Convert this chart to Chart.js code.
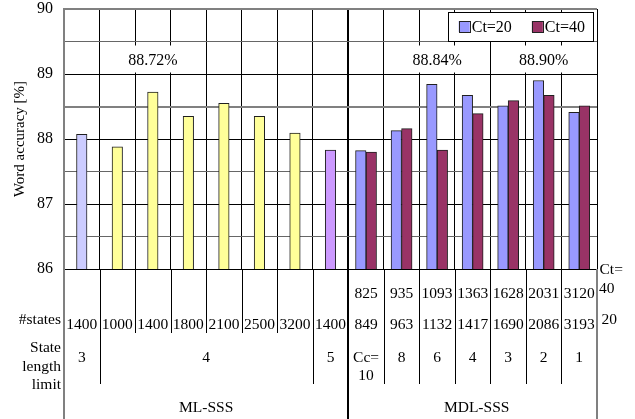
<!DOCTYPE html>
<html>
<head>
<meta charset="utf-8">
<script src="https://cdn.jsdelivr.net/npm/chart.js@4.4.1/dist/chart.umd.min.js"></script>
<style>
  html, body { margin: 0; padding: 0; background: #fff; }
  #wrap { width: 635px; height: 419px; position: relative; }
</style>
</head>
<body>
<div id="wrap"><canvas id="c" width="635" height="419"></canvas></div>
<script>
// ML-SSS systems: one bar per (state length limit, #states) setting
const mlStates = [1400, 1000, 1400, 1800, 2100, 2500, 3200, 1400];
const mlLengthLimit = [3, 4, 4, 4, 4, 4, 4, 5];
const mlAccuracy = [88.07, 87.88, 88.72, 88.35, 88.55, 88.35, 88.09, 87.83];

// MDL-SSS systems: one column per Cc value, two bars (Ct=20 / Ct=40)
const mdlCc = [10, 8, 6, 4, 3, 2, 1];
const mdlStatesCt40 = [825, 935, 1093, 1363, 1628, 2031, 3120];
const mdlStatesCt20 = [849, 963, 1132, 1417, 1690, 2086, 3193];
const mdlAccCt20 = [87.82, 88.13, 88.84, 88.67, 88.51, 88.90, 88.41];
const mdlAccCt40 = [87.80, 88.16, 87.83, 88.39, 88.59, 88.67, 88.51];

const seriesNames = ['Ct=20', 'Ct=40'];
const groupNames = ['ML-SSS', 'MDL-SSS'];
const yRange = [86, 90];

// columns whose best accuracy gets a callout
const calloutColumns = [2, 10, 13];

const SERIF = "'Liberation Serif', 'Times New Roman', serif";
const nML = mlAccuracy.length;
const nMDL = mdlCc.length;
const pad = (n) => Array(n).fill(null);

const categories = [
  ...mlStates.map((s, i) => `ML L${mlLengthLimit[i]} ${s}`),
  ...mdlCc.map(c => `MDL Cc=${c}`)
];

const limitColor = { 3: '#CCCCFF', 4: '#FFFF99', 5: '#CC99FF' };
const seriesColor = ['#9999FF', '#993366'];

const datasets = [
  {
    label: 'ML-SSS',
    data: [...mlAccuracy, ...pad(nMDL)],
    backgroundColor: [...mlLengthLimit.map(l => limitColor[l]), ...pad(nMDL)],
    inLegend: false
  },
  {
    label: seriesNames[0],
    data: [...pad(nML), ...mdlAccCt20],
    backgroundColor: seriesColor[0],
    inLegend: true
  },
  {
    label: seriesNames[1],
    data: [...pad(nML), ...mdlAccCt40],
    backgroundColor: seriesColor[1],
    inLegend: true
  }
];

const crisp = v => Math.round(v) + 0.5;

// value callouts in white boxes above the best bars
const calloutPlugin = {
  id: 'callouts',
  afterDatasetsDraw(chart) {
    const { ctx, scales: { x, y } } = chart;
    ctx.save();
    ctx.font = `16px ${SERIF}`;
    ctx.textAlign = 'center';
    ctx.textBaseline = 'alphabetic';
    calloutColumns.forEach(col => {
      const vals = chart.data.datasets.map(d => d.data[col]).filter(v => v != null);
      const best = Math.max(...vals);
      const text = best.toFixed(2) + '%';
      const cx = x.getPixelForValue(col);
      const w = ctx.measureText(text).width + 14;
      const top = y.getPixelForValue(89.5) + 4;
      const bottom = y.getPixelForValue(89) - 1.5;
      ctx.fillStyle = '#fff';
      ctx.fillRect(cx - w / 2, top, w, bottom - top);
      ctx.fillStyle = '#000';
      ctx.fillText(text, cx, bottom - 7.5);
    });
    ctx.restore();
  }
};

// boxed legend inside the plot, top right
const boxLegendPlugin = {
  id: 'boxLegend',
  afterDatasetsDraw(chart) {
    const { ctx, chartArea } = chart;
    const items = chart.data.datasets.filter(d => d.inLegend);
    ctx.save();
    ctx.font = `16px ${SERIF}`;
    const box = { right: chartArea.right - 4, top: chartArea.top + 3, h: 29 };
    const sq = 11, gap = 2, itemGap = 20, padL = 11, padR = 8;
    const widths = items.map(d => sq + gap + ctx.measureText(d.label).width);
    const total = padL + widths.reduce((a, b) => a + b, 0) + itemGap * (items.length - 1) + padR;
    const left = box.right - total;
    ctx.fillStyle = '#fff';
    ctx.fillRect(left, box.top, total, box.h);
    ctx.strokeStyle = '#000';
    ctx.lineWidth = 1;
    ctx.strokeRect(crisp(left), crisp(box.top), Math.round(total), box.h);
    let xPos = left + padL;
    const midY = box.top + box.h / 2;
    items.forEach((d, i) => {
      ctx.fillStyle = d.backgroundColor;
      ctx.fillRect(xPos, midY - sq / 2, sq, sq);
      ctx.strokeStyle = '#222';
      ctx.strokeRect(crisp(xPos), crisp(midY - sq / 2), sq, sq);
      ctx.fillStyle = '#000';
      ctx.textBaseline = 'middle';
      ctx.textAlign = 'left';
      ctx.fillText(d.label, xPos + sq + gap, midY + 1);
      xPos += widths[i] + itemGap;
    });
    ctx.restore();
  }
};

// parameter table below the category axis
const tablePlugin = {
  id: 'paramTable',
  afterDraw(chart) {
    const { ctx, chartArea, scales: { x } } = chart;
    const H = chart.height;
    const base = chartArea.bottom;
    const edge = i => x.getPixelForValue(i - 0.5);
    const center = i => x.getPixelForValue(i);
    const n = categories.length;

    ctx.save();
    // vertical rules
    for (let i = 0; i <= n; i++) {
      let end, width = 1, color = '#000';
      if (i === 0 || i === n) { end = H; width = 2; color = '#808080'; }
      else if (i === nML) { end = H; width = 2; }
      else if (i === 1 || i === nML - 1 || i > nML) { end = 384; }
      else { end = 333; }
      ctx.strokeStyle = color;
      ctx.lineWidth = width;
      const px = width === 2 ? Math.round(edge(i)) : crisp(edge(i));
      ctx.beginPath();
      ctx.moveTo(px, base);
      ctx.lineTo(px, end);
      ctx.stroke();
    }

    ctx.fillStyle = '#000';
    ctx.textBaseline = 'alphabetic';
    ctx.font = `15.5px ${SERIF}`;

    // row headers
    ctx.textAlign = 'right';
    const hdrX = chartArea.left - 3;
    ctx.fillText('#states', hdrX, 323.5);
    ctx.fillText('State', hdrX, 352);
    ctx.fillText('length', hdrX, 370.5);
    ctx.fillText('limit', hdrX, 389);

    // Ct key on the right
    ctx.textAlign = 'left';
    ctx.fillText('Ct=', chartArea.right + 2.5, 274);
    ctx.fillText('40', chartArea.right + 2, 292.7);
    ctx.fillText('20', chartArea.right + 4.5, 324);

    ctx.textAlign = 'center';
    // #states rows
    mdlStatesCt40.forEach((s, i) => ctx.fillText(String(s), center(nML + i), 298));
    mlStates.forEach((s, i) => ctx.fillText(String(s), center(i), 329));
    mdlStatesCt20.forEach((s, i) => ctx.fillText(String(s), center(nML + i), 329));

    // state length limit: merge runs of equal values
    let start = 0;
    for (let i = 1; i <= nML; i++) {
      if (i === nML || mlLengthLimit[i] !== mlLengthLimit[start]) {
        const cx = (edge(start) + edge(i)) / 2;
        ctx.fillText(String(mlLengthLimit[start]), cx, 361.5);
        start = i;
      }
    }
    // Cc values (first column carries the "Cc=" prefix on its own line)
    mdlCc.forEach((c, i) => {
      const cx = center(nML + i);
      if (i === 0) {
        ctx.fillText('Cc=', cx, 361.5);
        ctx.fillText(String(c), cx, 380);
      } else {
        ctx.fillText(String(c), cx, 361.5);
      }
    });

    // group names
    ctx.fillText(groupNames[0], (edge(0) + edge(nML)) / 2, 411.5);
    ctx.fillText(groupNames[1], (edge(nML) + edge(n)) / 2 + 4, 411.5);
    ctx.restore();
  }
};

new Chart(document.getElementById('c'), {
  type: 'bar',
  data: { labels: categories, datasets },
  options: {
    responsive: false,
    animation: false,
    devicePixelRatio: 1,
    layout: { padding: { top: 9, right: 38, left: 0, bottom: 0 } },
    plugins: { legend: { display: false }, tooltip: { enabled: false } },
    datasets: {
      bar: {
        skipNull: true,
        barThickness: 10.5,
        borderWidth: 1,
        borderColor: '#1f1f1f',
        borderSkipped: false
      }
    },
    scales: {
      x: {
        grid: {
          offset: true,
          drawTicks: false,
          color: ctx => (ctx.index === 0 || ctx.index === categories.length) ? '#808080' : '#000',
          lineWidth: ctx => (ctx.index === nML || ctx.index === categories.length) ? 2 : 1
        },
        border: { display: true, color: '#000', width: 1 },
        ticks: { display: false },
        afterFit: s => { s.height = 150; }
      },
      y: {
        min: yRange[0],
        max: yRange[1],
        ticks: {
          stepSize: 0.5,
          padding: 11,
          color: '#000',
          font: { family: SERIF, size: 16 },
          callback: v => Number.isInteger(v) ? String(v) : ''
        },
        grid: {
          drawTicks: false,
          color: ctx => {
            const v = ctx.tick.value;
            if (v === yRange[1]) return '#808080';
            return Number.isInteger(v) ? '#000' : (v === 88.5 ? '#808080' : '#666');
          },
          lineWidth: ctx => (ctx.tick.value === yRange[1] || ctx.tick.value === 88.5) ? 2 : 1
        },
        border: { display: true, color: '#808080', width: 2 },
        title: {
          display: true,
          text: 'Word accuracy [%]',
          color: '#000',
          font: { family: SERIF, size: 15 },
          padding: { top: 11, bottom: 0 }
        },
        afterFit: s => {
          s.width = 64;
          // the plot edges are fixed by the layout padding alone
          s.paddingTop = 0;
          s.paddingBottom = 0;
        }
      }
    }
  },
  plugins: [calloutPlugin, boxLegendPlugin, tablePlugin]
});
</script>
</body>
</html>
